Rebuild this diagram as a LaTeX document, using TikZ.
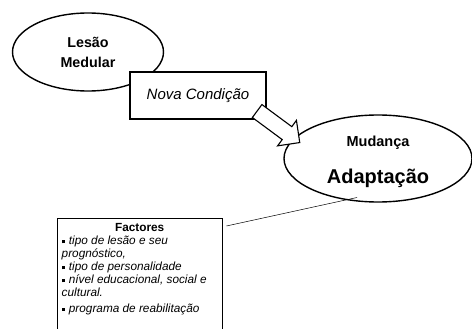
\documentclass[tikz,border=0pt]{standalone}
\usepackage{fontspec}
\setmainfont{Liberation Sans}
\usetikzlibrary{positioning, shapes.geometric, shapes.arrows}
\newcommand{\sqbul}{\raisebox{1.5pt}{\rule{3.2pt}{3.2pt}}\hspace{4pt}}

\begin{document}
\begin{tikzpicture}[x=1pt, y=1pt,
  bubble/.style={draw, ellipse, fill=white, line width=1.4pt, inner sep=0pt, align=center},
  condbox/.style={draw, rectangle, fill=white, line width=2pt, minimum width=136pt, minimum height=47pt, font=\itshape\fontsize{15}{18}\selectfont},
  fatarrow/.style={draw, single arrow, fill=white, line width=1.1pt, inner xsep=0pt, inner ysep=7.5pt, minimum height=53pt, single arrow head extend=7.8pt, single arrow head indent=0pt},
  factbox/.style={rectangle, inner xsep=4.5pt, inner ysep=5.5pt, anchor=north west}]
\useasboundingbox (0,0) rectangle (472,-329);
\clip (0,0) rectangle (472,-329);
\node[bubble, minimum width=151pt, minimum height=78pt, font=\bfseries\fontsize{14.3}{20}\selectfont] (lesao) at (88,-52) {Lesão\\Medular};
\node[condbox] (cond) at (198,-95.5) {Nova Condição};
\node[bubble, minimum width=188pt, minimum height=87pt, font=\bfseries\fontsize{14.5}{18}\selectfont] (mud) at (378,-158.5) {\rule{0pt}{18pt}Mudança\\[19pt]{\fontsize{20}{24}\selectfont Adaptação}};
\node[fatarrow, rotate=-36.5, anchor=tail] (seta) at (256.7,-110.7) {};
\node[factbox] (fact) at (57,-218) {\begin{minipage}[t][135pt][t]{156pt}
\fontsize{11.8}{13}\selectfont
{\centering\bfseries Factores\par}
\itshape
\sqbul tipo de lesão e seu\\
prognóstico,\\
\sqbul tipo de personalidade\\
\sqbul nível educacional, social e\\
cultural.\par\vspace{2.5pt}
\sqbul programa de reabilitação
\end{minipage}};
\draw[line width=0.6pt] (fact.south west) |- (fact.north east) -- (fact.south east);
\coordinate (mudpt) at ([xshift=-21pt, yshift=-39pt]mud.center);
\draw[line width=0.5pt] ([xshift=4pt, yshift=-8pt]fact.north east) -- (mudpt);
\end{tikzpicture}
\end{document}
